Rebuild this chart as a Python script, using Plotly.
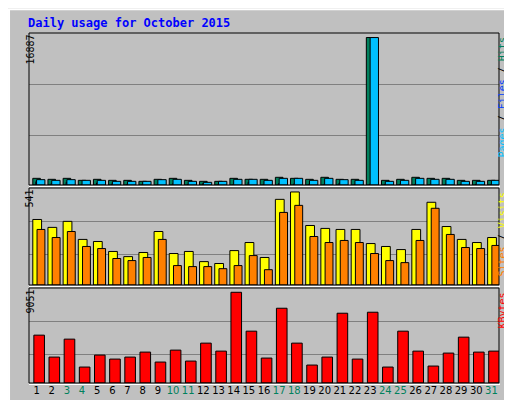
import plotly.graph_objects as go

days = list(range(1, 32))
weekend = [3, 4, 10, 11, 17, 18, 24, 25, 31]

hits = [764, 650, 764, 535, 650, 535, 535, 420, 650, 764, 535, 420, 420, 764, 650, 650,
        880, 764, 650, 880, 650, 650, 16887, 535, 650, 880, 764, 764, 535, 535, 535]
files = [611, 535, 611, 535, 535, 420, 420, 420, 611, 650, 420, 305, 420, 650, 650, 535,
         764, 764, 535, 764, 611, 535, 16880, 420, 535, 764, 650, 650, 420, 420, 535]
pages = [380, 150, 310, 60, 230, 120, 80, 60, 60, 120, 60, 150, 40, 60, 310, 60,
         150, 110, 80, 80, 230, 60, 80, 60, 80, 110, 60, 80, 60, 80, 60]

visits = [381, 335, 370, 265, 253, 195, 165, 189, 311, 183, 195, 136, 125, 200, 247, 160,
          498, 541, 346, 329, 323, 323, 241, 224, 206, 323, 481, 340, 265, 247, 276]
sites = [323, 276, 311, 224, 212, 154, 142, 160, 265, 113, 107, 107, 95, 113, 171, 89,
         422, 463, 282, 247, 259, 247, 183, 142, 130, 259, 446, 294, 218, 212, 230]

kbytes = [4774, 2586, 4376, 1591, 2785, 2387, 2586, 3083, 2089, 3282, 2188, 3978, 3182, 9051,
          5172, 2487, 7459, 3978, 1790, 2586, 6962, 2387, 7061, 1591, 5172, 3182, 1691, 2984,
          4575, 3083, 3182]

GRAY = "#C0C0C0"
line = dict(color="black", width=1)

fig = go.Figure()
fig.add_bar(x=days, y=hits, marker=dict(color="#00805C", line=line), offset=-0.25, width=0.5,
            xaxis="x", yaxis="y")
fig.add_bar(x=days, y=pages, marker=dict(color="#0040FF", line=line), offset=-0.05, width=0.18,
            xaxis="x", yaxis="y")
fig.add_bar(x=days, y=files, marker=dict(color="#00C0FF", line=line), offset=0.0, width=0.55,
            xaxis="x", yaxis="y")
fig.add_bar(x=days, y=visits, marker=dict(color="#FFFF00", line=line), offset=-0.25, width=0.58,
            xaxis="x2", yaxis="y2")
fig.add_bar(x=days, y=sites, marker=dict(color="#FF8000", line=line), offset=0.03, width=0.52,
            xaxis="x2", yaxis="y2")
fig.add_bar(x=days, y=kbytes, marker=dict(color="#FF0000", line=line), offset=-0.18, width=0.7,
            xaxis="x3", yaxis="y3")

xd = [21 / 512, 491 / 512]
ticktext = ['<span style="color:%s">%d</span>' % ("#00805C" if d in weekend else "black", d)
            for d in days]
common_x = dict(domain=xd, range=[0.5, 31.5], showgrid=False, zeroline=False,
                showline=False, fixedrange=True)
fig.update_layout(
    width=512, height=400, margin=dict(l=0, r=0, t=0, b=0, autoexpand=False),
    paper_bgcolor=GRAY, plot_bgcolor=GRAY, showlegend=False, barmode="overlay",
    font=dict(family="DejaVu Sans Mono", size=10, color="black"),
    xaxis=dict(common_x, anchor="y", showticklabels=False),
    xaxis2=dict(common_x, anchor="y2", showticklabels=False),
    xaxis3=dict(common_x, anchor="y3", tickvals=days, ticktext=ticktext, ticks="",
                tickangle=0, tickfont=dict(family="DejaVu Sans", size=10)),
    yaxis=dict(domain=[1 - 177 / 400, 1 - 25 / 400], range=[0, 17402], tickvals=[5724, 11563],
               showticklabels=False, gridcolor="#808080", zeroline=False),
    yaxis2=dict(domain=[1 - 277 / 400, 1 - 180 / 400], range=[0, 564], tickvals=[179, 370],
                showticklabels=False, gridcolor="#808080", zeroline=False),
    yaxis3=dict(domain=[1 - 375 / 400, 1 - 280 / 400], range=[0, 9479], tickvals=[2884, 6167],
                showticklabels=False, gridcolor="#808080", zeroline=False),
)

# panel frames and outer bevel
shapes = [
    dict(type="rect", xref="paper", yref="paper", x0=0.002, y0=0.003, x1=0.998, y1=0.997,
         line=dict(color="white", width=2)),
    dict(type="line", xref="paper", yref="paper", x0=0.002, y0=0.003, x1=0.998, y1=0.003,
         line=dict(color="#808080", width=3)),
    dict(type="line", xref="paper", yref="paper", x0=0.998, y0=0.003, x1=0.998, y1=0.997,
         line=dict(color="#808080", width=3)),
]
for top, bot in [(25, 177), (180, 277), (280, 375)]:
    shapes.append(dict(type="rect", xref="paper", yref="paper", x0=xd[0], x1=xd[1],
                       y0=1 - bot / 400, y1=1 - top / 400, line=dict(color="black", width=1)))
    shapes.append(dict(type="line", xref="paper", yref="paper", x0=xd[0], x1=xd[1] + 0.002,
                       y0=1 - (bot + 1.5) / 400, y1=1 - (bot + 1.5) / 400,
                       line=dict(color="white", width=1)))
fig.update_layout(shapes=shapes)

ann = [
    dict(text="<b>Daily usage for October 2015</b>", x=18 / 512, y=1 - 15 / 400,
         xanchor="left", yanchor="middle", font=dict(color="#0000FF", size=12)),
    dict(text=str(max(hits)), x=14 / 512, y=1 - 25 / 400, yanchor="top", textangle=-90),
    dict(text=str(max(visits)), x=14 / 512, y=1 - 180 / 400, yanchor="top", textangle=-90),
    dict(text=str(max(kbytes)), x=14 / 512, y=1 - 280 / 400, yanchor="top", textangle=-90),
    dict(text='<span style="color:#00C0FF">Pages</span> / <span style="color:#0040FF">Files</span>'
              ' / <span style="color:#00805C">Hits</span>',
         x=501 / 512, y=1 - 28 / 400, yanchor="top", textangle=-90),
    dict(text='<span style="color:#FF8000">Sites</span> / <span style="color:#FFFF00">Visits</span>',
         x=501 / 512, y=1 - 183 / 400, yanchor="top", textangle=-90),
    dict(text='<span style="color:#FF0000">KBytes</span>',
         x=501 / 512, y=1 - 283 / 400, yanchor="top", textangle=-90),
]
for a in ann:
    a.update(xref="paper", yref="paper", showarrow=False)
fig.update_layout(annotations=ann)

fig.write_html("out.html")
